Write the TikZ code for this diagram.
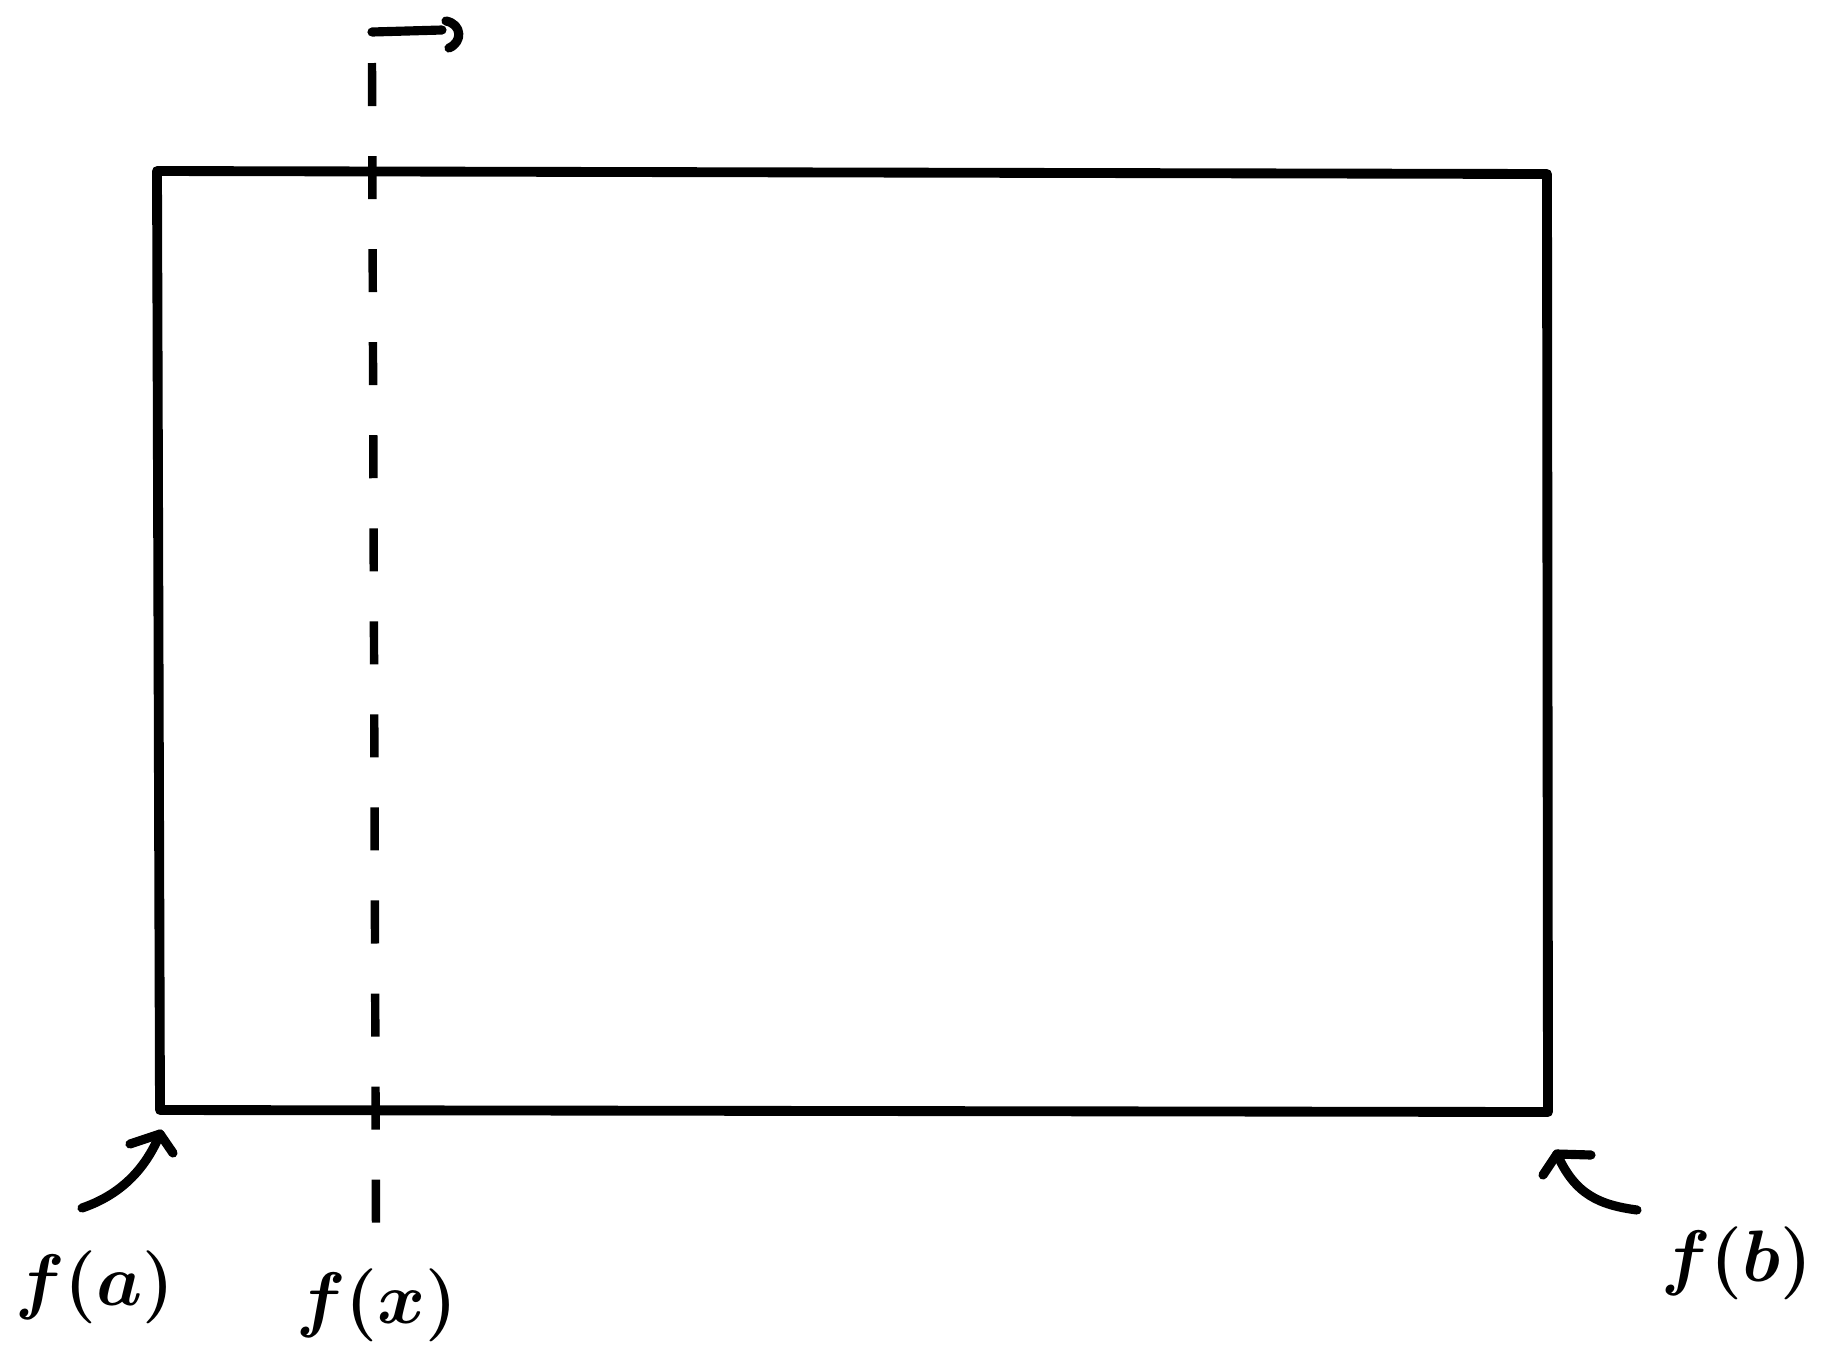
\documentclass[tikz,border=0pt]{standalone}
\begin{document}
\begin{tikzpicture}[x=0.01cm,y=-0.01cm,
  edge/.style={line width=2.8pt,line join=round,line cap=round},
  cut/.style={line width=2.4pt,dash pattern=on 0.43cm off 0.50cm},
  pointer/.style={line width=2.6pt,line cap=round,line join=round},
  lbl/.style={inner sep=0pt,font=\fontsize{20}{24}\selectfont\boldmath}]
\useasboundingbox (0,0) rectangle (1832,1372);
% rectangle corners
\coordinate (tl) at (157,171);
\coordinate (tr) at (1547,174);
\coordinate (br) at (1548,1112);
\coordinate (bl) at (160,1110);
\draw[edge] (tl) -- (tr) -- (br) -- (bl) -- cycle;
% dashed vertical line
\coordinate (dtop) at (372,63);
\coordinate (dbot) at (376,1230);
\draw[cut] (dtop) -- (dbot);
% top arrow
\coordinate (as) at (372,32);
\coordinate (ae) at (442,30);
\draw[pointer] (as) -- (ae);
\draw[pointer] (446,21) .. controls (462,24) and (463,42) .. (449,48);
% labels
\node[lbl] (fa) at (95,1287) {$f(a)$};
\node[lbl] (fx) at (377,1305) {$f(x)$};
\node[lbl] (fb) at (1737,1263) {$f(b)$};
% corner pointers
\coordinate (pa) at (160,1134);
\coordinate (pb) at (1557,1154);
\draw[pointer] (82,1208) .. controls (120,1195) and (145,1170) .. (pa);
\draw[pointer] (130,1144) -- (pa) -- (173,1153);
\draw[pointer] (1637,1210) .. controls (1600,1205) and (1575,1195) .. (pb);
\draw[pointer] (1591,1155) -- (pb) -- (1543,1175);
\end{tikzpicture}
\end{document}
